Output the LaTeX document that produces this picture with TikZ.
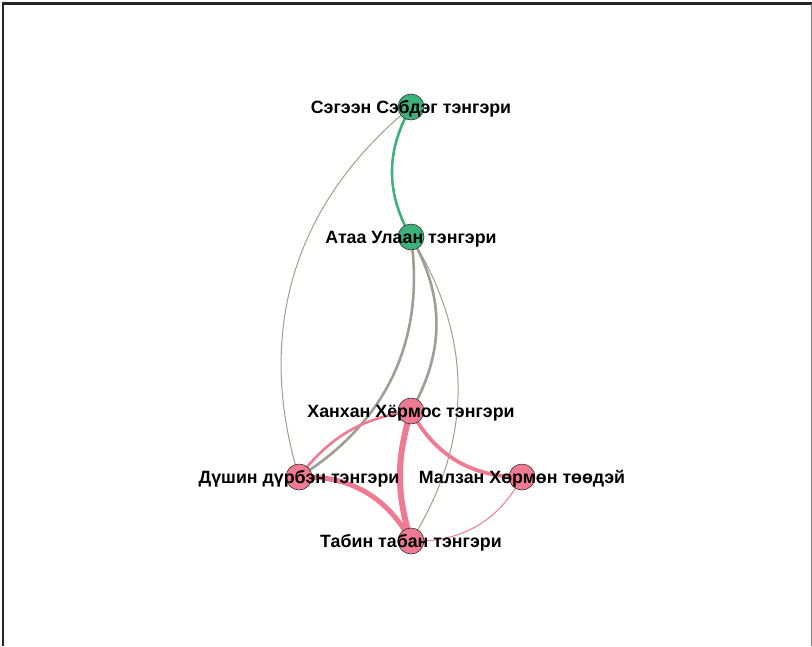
\documentclass[tikz,border=0pt]{standalone}
\usepackage{fontspec}
\setmainfont{Liberation Sans}
\begin{document}
\begin{tikzpicture}[x=1pt,y=-1pt,
  gnode/.style={circle,draw=black!80,line width=0.6pt,fill=grn,minimum size=26pt,inner sep=0pt},
  pnode/.style={circle,draw=black!80,line width=0.6pt,fill=pnk,minimum size=26pt,inner sep=0pt},
  lab/.style={font=\bfseries\fontsize{17.8}{20}\selectfont,text=black,inner sep=0pt},
  gedge/.style={draw=gry},
  pedge/.style={draw=pnk},
]
\definecolor{grn}{HTML}{3DB27C}
\definecolor{pnk}{HTML}{EF7B93}
\definecolor{gry}{HTML}{9F9E92}
\useasboundingbox (0,0) rectangle (812,646);
\fill[white] (0,0) rectangle (812,646);
% frame
\draw[line width=2.5pt,draw=black!85] (3,646) -- (3,3.5) -- (812,3.5);
\draw[line width=1pt,draw=black!50] (811,3.5) -- (811,646);
% positions
\coordinate (S) at (411,107);
\coordinate (A) at (411,237);
\coordinate (X) at (411,411);
\coordinate (D) at (299,477);
\coordinate (M) at (522,477);
\coordinate (T) at (411,541);
% edges
\draw[gedge,line width=1pt] (S) to[bend right=34] (D);
\draw[gedge,line width=1pt] (A) to[bend left=32] (T);
\draw[gedge,line width=2.6pt] (A) to[bend left=33] (D);
\draw[gedge,line width=2.6pt] (A) to[bend left=30] (X);
\draw[draw=grn,line width=2.6pt] (S) to[bend right=30] (A);
\draw[pedge,line width=1pt] (M) to[bend left=32] (T);
\draw[pedge,line width=2.6pt] (X) to[bend right=22] (D);
\draw[pedge,line width=3.8pt] (X) to[bend right=31] (M);
\draw[pedge,line width=5pt] (D) to[bend left=32] (T);
\draw[pedge,line width=6pt] (X) to[bend right=17] (T);
% nodes
\node[gnode] (nS) at (S) {};
\node[gnode] (nA) at (A) {};
\node[pnode] (nX) at (X) {};
\node[pnode] (nD) at (D) {};
\node[pnode] (nM) at (M) {};
\node[pnode] (nT) at (T) {};
% labels
\node[lab] (lS) at ([yshift=-2pt]S) {Сэгээн Сэбдэг тэнгэри};
\node[lab] (lA) at ([yshift=-2pt]A) {Атаа Улаан тэнгэри};
\node[lab] (lX) at ([yshift=-2pt]X) {Ханхан Хёрмос тэнгэри};
\node[lab] (lD) at ([yshift=-2pt]D) {Дүшин дүрбэн тэнгэри};
\node[lab] (lM) at ([yshift=-2pt]M) {Малзан Хөрмөн төөдэй};
\node[lab] (lT) at ([yshift=-2pt]T) {Табин табан тэнгэри};
\end{tikzpicture}
\end{document}
